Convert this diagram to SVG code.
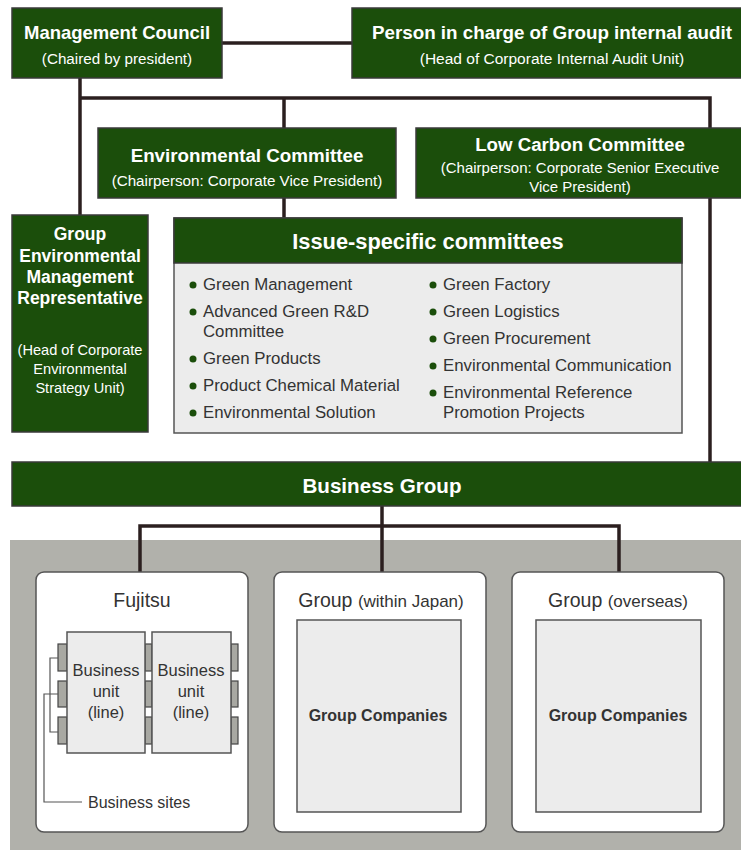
<svg xmlns="http://www.w3.org/2000/svg" width="741" height="850" viewBox="0 0 741 850">
<style>
.g{fill:#1b4e0b;stroke:#3a3a3a;stroke-width:1.5}
.t{font-family:"Liberation Sans",Arial,sans-serif;fill:#fff;text-anchor:middle}
.b{font-weight:bold}
.c{stroke:#2b1f1f;stroke-width:3.5;fill:none}
.li{font-family:"Liberation Sans",Arial,sans-serif;fill:#333;font-size:16.8px}
.dot{fill:#1b4e0b}
.wb{fill:#fff;stroke:#555;stroke-width:1.5}
.ib{fill:#ececec;stroke:#555;stroke-width:1.5}
.tab{fill:#a8a8a2;stroke:#444;stroke-width:1.2}
.d{font-family:"Liberation Sans",Arial,sans-serif;fill:#333;text-anchor:middle}
.thin{stroke:#555;stroke-width:1.2;fill:none}
</style>
<rect x="0" y="0" width="741" height="850" fill="#fff"/>
<rect x="10" y="540" width="731" height="310" fill="#b1b1ab"/>
<g id="connectors">
<line class="c" x1="222" y1="43" x2="352" y2="43"/>
<line class="c" x1="80" y1="78" x2="80" y2="215"/>
<polyline class="c" points="80,98 710,98 710,128"/>
<line class="c" x1="284" y1="98" x2="284" y2="128"/>
<line class="c" x1="284" y1="198" x2="284" y2="218"/>
<line class="c" x1="710" y1="198" x2="710" y2="462"/>
<line class="c" x1="382" y1="506" x2="382" y2="572"/>
<polyline class="c" points="140,572 140,526 619,526 619,572"/>
</g>
<g id="management-council">
<rect class="g" x="12" y="8" width="210" height="70"/>
<text class="t b" x="117" y="39" font-size="18.5">Management Council</text>
<text class="t" x="117" y="64" font-size="15.2">(Chaired by president)</text>
</g>
<g id="internal-audit">
<rect class="g" x="352" y="8" width="395" height="70"/>
<text class="t b" x="552" y="39" font-size="18.8">Person in charge of Group internal audit</text>
<text class="t" x="552" y="64" font-size="15.5">(Head of Corporate Internal Audit Unit)</text>
</g>
<g id="environmental-committee">
<rect class="g" x="98" y="128" width="298" height="70"/>
<text class="t b" x="247" y="162" font-size="18.8">Environmental Committee</text>
<text class="t" x="247" y="186" font-size="15.2">(Chairperson: Corporate Vice President)</text>
</g>
<g id="low-carbon-committee">
<rect class="g" x="416" y="128" width="331" height="70"/>
<text class="t b" x="580" y="151" font-size="18.7">Low Carbon Committee</text>
<text class="t" x="580" y="173" font-size="15">(Chairperson: Corporate Senior Executive</text>
<text class="t" x="580" y="192" font-size="15">Vice President)</text>
</g>
<g id="group-env-rep">
<rect class="g" x="12" y="215" width="136" height="217"/>
<text class="t b" x="80" y="240" font-size="17.5">Group</text>
<text class="t b" x="80" y="262" font-size="17.5">Environmental</text>
<text class="t b" x="80" y="283" font-size="17.5">Management</text>
<text class="t b" x="80" y="304" font-size="17.5">Representative</text>
<text class="t" x="80" y="355" font-size="14.6">(Head of Corporate</text>
<text class="t" x="80" y="374" font-size="14.6">Environmental</text>
<text class="t" x="80" y="393" font-size="14.6">Strategy Unit)</text>
</g>
<g id="issue-specific-committees">
<rect class="ib" x="174" y="218" width="508" height="215"/>
<rect class="g" x="174" y="218" width="508" height="45"/>
<text class="t b" x="428" y="249" font-size="21.8">Issue-specific committees</text>
<circle class="dot" cx="193" cy="285" r="3.5"/><text class="li" x="203" y="290">Green Management</text>
<circle class="dot" cx="193" cy="312" r="3.5"/><text class="li" x="203" y="317">Advanced Green R&amp;D</text>
<text class="li" x="203" y="337">Committee</text>
<circle class="dot" cx="193" cy="359" r="3.5"/><text class="li" x="203" y="364">Green Products</text>
<circle class="dot" cx="193" cy="386" r="3.5"/><text class="li" x="203" y="391">Product Chemical Material</text>
<circle class="dot" cx="193" cy="413" r="3.5"/><text class="li" x="203" y="418">Environmental Solution</text>
<circle class="dot" cx="433" cy="285" r="3.5"/><text class="li" x="443" y="290">Green Factory</text>
<circle class="dot" cx="433" cy="312" r="3.5"/><text class="li" x="443" y="317">Green Logistics</text>
<circle class="dot" cx="433" cy="339" r="3.5"/><text class="li" x="443" y="344">Green Procurement</text>
<circle class="dot" cx="433" cy="366" r="3.5"/><text class="li" x="443" y="371">Environmental Communication</text>
<circle class="dot" cx="433" cy="393" r="3.5"/><text class="li" x="443" y="398">Environmental Reference</text>
<text class="li" x="443" y="418">Promotion Projects</text>
</g>
<g id="business-group">
<rect class="g" x="12" y="462" width="735" height="44"/>
<text class="t b" x="382" y="493" font-size="20.6">Business Group</text>
</g>
<g id="fujitsu">
<rect class="wb" x="36" y="572" width="212" height="260" rx="8"/>
<text class="d" x="142" y="607" font-size="19.5">Fujitsu</text>
<rect class="tab" x="58" y="644" width="9" height="27"/>
<rect class="tab" x="58" y="681" width="9" height="26"/>
<rect class="tab" x="58" y="717" width="9" height="27"/>
<rect class="tab" x="145" y="644" width="7" height="27"/>
<rect class="tab" x="145" y="681" width="7" height="26"/>
<rect class="tab" x="145" y="717" width="7" height="27"/>
<rect class="tab" x="231" y="644" width="7" height="27"/>
<rect class="tab" x="231" y="681" width="7" height="26"/>
<rect class="tab" x="231" y="717" width="7" height="27"/>
<rect class="ib" x="67" y="632" width="78" height="121"/>
<rect class="ib" x="152" y="632" width="79" height="121"/>
<text class="d" x="106" y="676" font-size="16.5">Business</text>
<text class="d" x="106" y="697" font-size="16.5">unit</text>
<text class="d" x="106" y="718" font-size="16.5">(line)</text>
<text class="d" x="191" y="676" font-size="16.5">Business</text>
<text class="d" x="191" y="697" font-size="16.5">unit</text>
<text class="d" x="191" y="718" font-size="16.5">(line)</text>
<polyline class="thin" points="58,658 50,658 50,732 58,732"/>
<polyline class="thin" points="58,694 44,694 44,802 82,802"/>
<text x="88" y="808" font-family="Liberation Sans,Arial,sans-serif" font-size="16" fill="#333">Business sites</text>
</g>
<g id="group-japan">
<rect class="wb" x="274" y="572" width="212" height="260" rx="8"/>
<text class="d" x="381" y="607" font-size="19.5">Group <tspan font-size="17">(within Japan)</tspan></text>
<rect class="ib" x="297" y="620" width="164" height="192"/>
<text class="d b" x="378" y="721" font-size="16">Group Companies</text>
</g>
<g id="group-overseas">
<rect class="wb" x="512" y="572" width="212" height="260" rx="8"/>
<text class="d" x="618" y="607" font-size="19.5">Group <tspan font-size="17">(overseas)</tspan></text>
<rect class="ib" x="536" y="620" width="165" height="192"/>
<text class="d b" x="618" y="721" font-size="16">Group Companies</text>
</g>
</svg>
